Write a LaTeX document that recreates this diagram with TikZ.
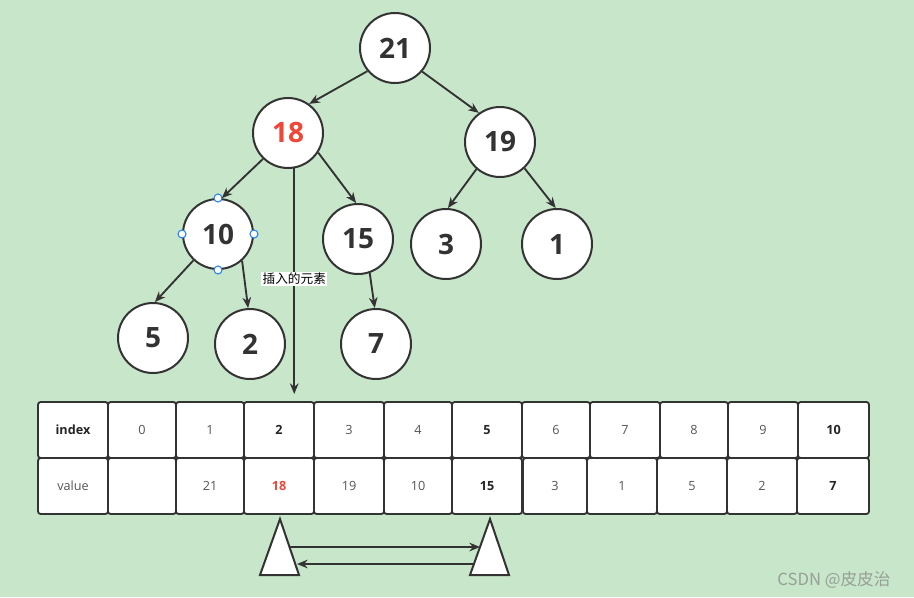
\documentclass[tikz,border=0pt]{standalone}
\usepackage{fontspec}
\setmainfont{Open Sans}
\newfontfamily\cjk{Noto Sans CJK SC}
\usetikzlibrary{arrows.meta}
\definecolor{bg}{RGB}{200,230,202}
\definecolor{ink}{RGB}{51,51,51}
\definecolor{txt}{RGB}{85,85,85}
\definecolor{hot}{RGB}{240,70,56}
\definecolor{handle}{RGB}{40,130,240}
\definecolor{wm}{RGB}{150,160,150}
\tikzset{
  heap/.style={circle,draw=ink,line width=1.5pt,fill=white,minimum size=52.5pt,inner sep=0pt,
    font=\fontsize{21}{21}\selectfont\bfseries,text=ink},
  link/.style={draw=ink,line width=1.4pt,-{Stealth[length=8pt,width=6.5pt]}},
  cell/.style={rectangle,rounded corners=2pt,draw=ink,line width=1.4pt,fill=white,
    minimum height=42pt,inner sep=0pt,font=\fontsize{9.5}{10}\selectfont,text=txt},
  bcell/.style={cell,font=\fontsize{9.5}{10}\selectfont\bfseries,text=black!85},
  hnd/.style={circle,draw=handle,fill=white,line width=0.8pt,minimum size=6pt,inner sep=0pt},
  tri/.style={draw=ink,line width=1.5pt,fill=white,line join=miter}
}
\newcommand\tcell[6]{\pgfmathsetmacro\cw{(#3-#2)*0.75}%
  \node[#6,minimum width=\cw pt] (#1) at ({(#2+#3)/2},#4) {#5};}
\begin{document}
\begin{tikzpicture}[x=0.75pt,y=-0.75pt]
\fill[bg] (0,0) rectangle (914,597);
\useasboundingbox (0,0) rectangle (914,597);

% heap nodes
\node[heap] (n21) at (395,48) {21};
\node[heap,text=hot] (n18) at (288,133) {18};
\node[heap] (n19) at (500,142) {19};
\node[heap] (n10) at (218,234) {10};
\node[heap] (n15) at (358,239) {15};
\node[heap] (n3) at (446,244) {3};
\node[heap] (n1) at (557,244) {1};
\node[heap] (n5) at (153,338) {5};
\node[heap] (n2) at (250,344) {2};
\node[heap] (n7) at (376,344) {7};

% selection handles on 10
\node[hnd] (h1) at (n10.north) {};
\node[hnd] (h2) at (n10.south) {};
\node[hnd] (h3) at (n10.west) {};
\node[hnd] (h4) at (n10.east) {};

% table
\tcell{i0}{38}{108}{430}{index}{bcell}
\tcell{i1}{108}{176}{430}{0}{cell}
\tcell{i2}{176}{244}{430}{1}{cell}
\tcell{i3}{244}{314}{430}{2}{bcell}
\tcell{i4}{314}{384}{430}{3}{cell}
\tcell{i5}{384}{452}{430}{4}{cell}
\tcell{i6}{452}{522}{430}{5}{bcell}
\tcell{i7}{522}{590}{430}{6}{cell}
\tcell{i8}{590}{660}{430}{7}{cell}
\tcell{i9}{660}{728}{430}{8}{cell}
\tcell{i10}{728}{798}{430}{9}{cell}
\tcell{i11}{798}{869}{430}{10}{bcell}

\tcell{v0}{38}{108}{486}{value}{cell}
\tcell{v1}{108}{176}{486}{}{cell}
\tcell{v2}{176}{244}{486}{21}{cell}
\tcell{v3}{244}{314}{486}{\textcolor{hot}{\bfseries 18}}{cell}
\tcell{v4}{314}{384}{486}{19}{cell}
\tcell{v5}{384}{452}{486}{10}{cell}
\tcell{v6}{452}{522}{486}{15}{bcell}
\tcell{v7}{523}{587}{486}{3}{cell}
\tcell{v8}{587}{657}{486}{1}{cell}
\tcell{v9}{657}{727}{486}{5}{cell}
\tcell{v10}{727}{797}{486}{2}{cell}
\tcell{v11}{797}{869}{486}{7}{bcell}

% edges
\draw[link] (n21.220) -- (n18.54);
\draw[link] (n21.319) -- (n19.126);
\draw[link] (n18.226) -- (n10.84);
\draw[link] (n18.327) -- (n15.93);
\draw[link] (n19.229) -- (n3.87);
\draw[link] (n19.313) -- (n1.92);
\draw[link] (n10.227) -- (n5.87);
\draw[link] (n10.312) -- (n2.93);
\draw[link] (n15.289) -- (n7.92);

% insertion arrow
\coordinate (ins) at (294,394);
\draw[link] (n18.280) -- (n18.280 |- ins)
  node[pos=0.49,fill=white,inner sep=1pt,text=black,font=\cjk\fontsize{9.5}{9.5}\selectfont] (lbl) {插入的元素};

% triangles
\draw[tri] (280,519) coordinate (ta) -- (299,575) -- (260,575) -- cycle;
\draw[tri] (490,519) coordinate (tb) -- (509,575) -- (470,575) -- cycle;
\coordinate (a1) at (290,547);
\coordinate (b1) at (480,547);
\coordinate (a2) at (297,564);
\coordinate (b2) at (473,564);
\draw[link] (a1) -- (b1);
\draw[link] (b2) -- (a2);

% watermark
\node[text=wm,font=\cjk\fontsize{12.5}{12.5}\selectfont] (wmk) at (834,580) {CSDN @皮皮治};
\end{tikzpicture}
\end{document}
